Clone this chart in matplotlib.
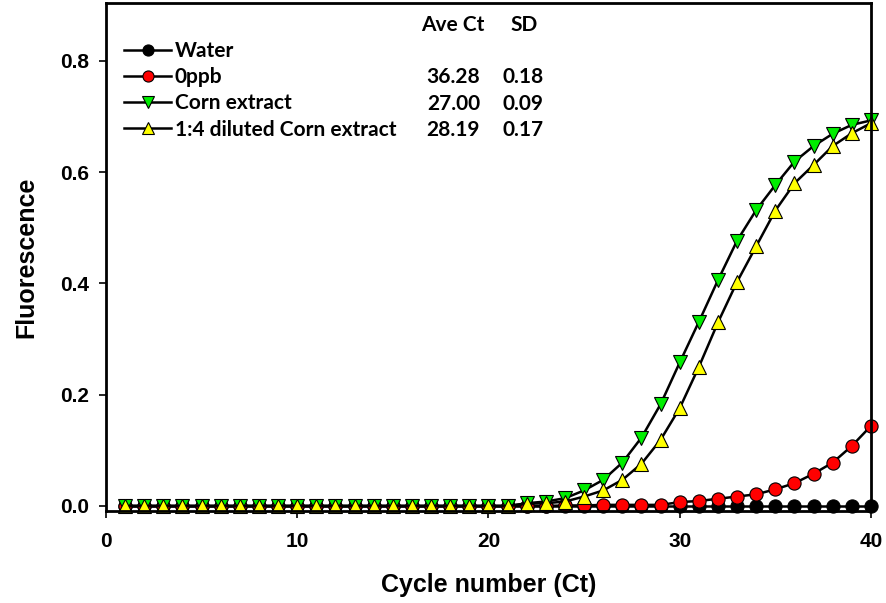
import numpy as np
import matplotlib.pyplot as plt
from matplotlib.lines import Line2D

# Cycles 1..40
cycles = np.arange(1, 41)

# Fluorescence readings per sample
water = [0.0] * 40
ppb0 = [0.0] * 23 + [0.001, 0.001, 0.002, 0.002, 0.002, 0.002,
                     0.007, 0.009, 0.013, 0.017, 0.021, 0.030,
                     0.041, 0.058, 0.078, 0.108, 0.144]
corn = [0.0] * 21 + [0.005, 0.008, 0.014, 0.028, 0.047, 0.078,
                     0.123, 0.183, 0.258, 0.331, 0.406, 0.477,
                     0.532, 0.577, 0.619, 0.647, 0.669, 0.685, 0.693]
diluted = [0.0] * 21 + [0.004, 0.005, 0.008, 0.017, 0.028, 0.047,
                        0.076, 0.119, 0.176, 0.250, 0.330, 0.403,
                        0.467, 0.531, 0.580, 0.613, 0.647, 0.670, 0.688]

labels = ['Water', '0ppb', 'Corn extract', '1:4 diluted Corn extract']
ave_ct = ['', '36.28', '27.00', '28.19']
sd = ['', '0.18', '0.09', '0.17']

W, H = 887, 603
fig = plt.figure(figsize=(W / 100, H / 100), dpi=100)
ax = fig.add_axes([106 / W, 1 - 511 / H, (871 - 106) / W, (511 - 3) / H])

styles = [
    dict(marker='o', mfc='black'),
    dict(marker='o', mfc='#ff0000'),
    dict(marker='v', mfc='#00ee00'),
    dict(marker='^', mfc='#ffff00'),
]
series = [water, ppb0, corn, diluted]
for ys, st in zip(series, styles):
    ax.plot(cycles, ys, color='black', lw=1.8, ms=9.5, mec='black', mew=0.8,
            clip_on=False, **st)

ax.set_xlim(0, 40)
ax.set_ylim(-0.009, 0.904)
ax.set_xticks([0, 10, 20, 30, 40])
ax.set_yticks([0.0, 0.2, 0.4, 0.6, 0.8])
ax.set_yticklabels(['0.0', '0.2', '0.4', '0.6', '0.8'])
for s in ax.spines.values():
    s.set_linewidth(2)
ax.tick_params(width=1.2, length=5, labelsize=15)
ax.tick_params(axis='y', pad=7)
ax.tick_params(axis='x', pad=10)
for lab in ax.get_xticklabels() + ax.get_yticklabels():
    lab.set_fontfamily('Liberation Sans')
    lab.set_fontweight('bold')

ax.set_xlabel('Cycle number (Ct)', fontsize=18, fontweight='bold',
              family='Liberation Sans', labelpad=16)
ax.set_ylabel('Fluorescence', fontsize=18, fontweight='bold',
              family='Liberation Sans', labelpad=16)

# legend with Ct and SD columns
lfont = dict(family='Lato', weight='bold', size=15)
handles = [Line2D([], [], color='black', lw=1.8, ms=8, mec='black', mew=0.8, **st)
           for st in styles]
leg = ax.legend(handles, labels, loc='upper left', bbox_to_anchor=(114 / W, 1 - 31 / H),
                bbox_transform=fig.transFigure, frameon=False, handlelength=2.26,
                handletextpad=0.15, labelspacing=0.29, borderpad=0, prop=lfont)

fig.text(453 / W, 1 - 25 / H, 'Ave Ct', ha='center', va='center', **lfont)
fig.text(524 / W, 1 - 25 / H, 'SD', ha='center', va='center', **lfont)
rows_y = [50, 77, 104, 130]
for yv, a, s in zip(rows_y, ave_ct, sd):
    fig.text(480 / W, 1 - yv / H, a, ha='right', va='center', **lfont)
    fig.text(544 / W, 1 - yv / H, s, ha='right', va='center', **lfont)

fig.savefig('out.png', dpi=100)
